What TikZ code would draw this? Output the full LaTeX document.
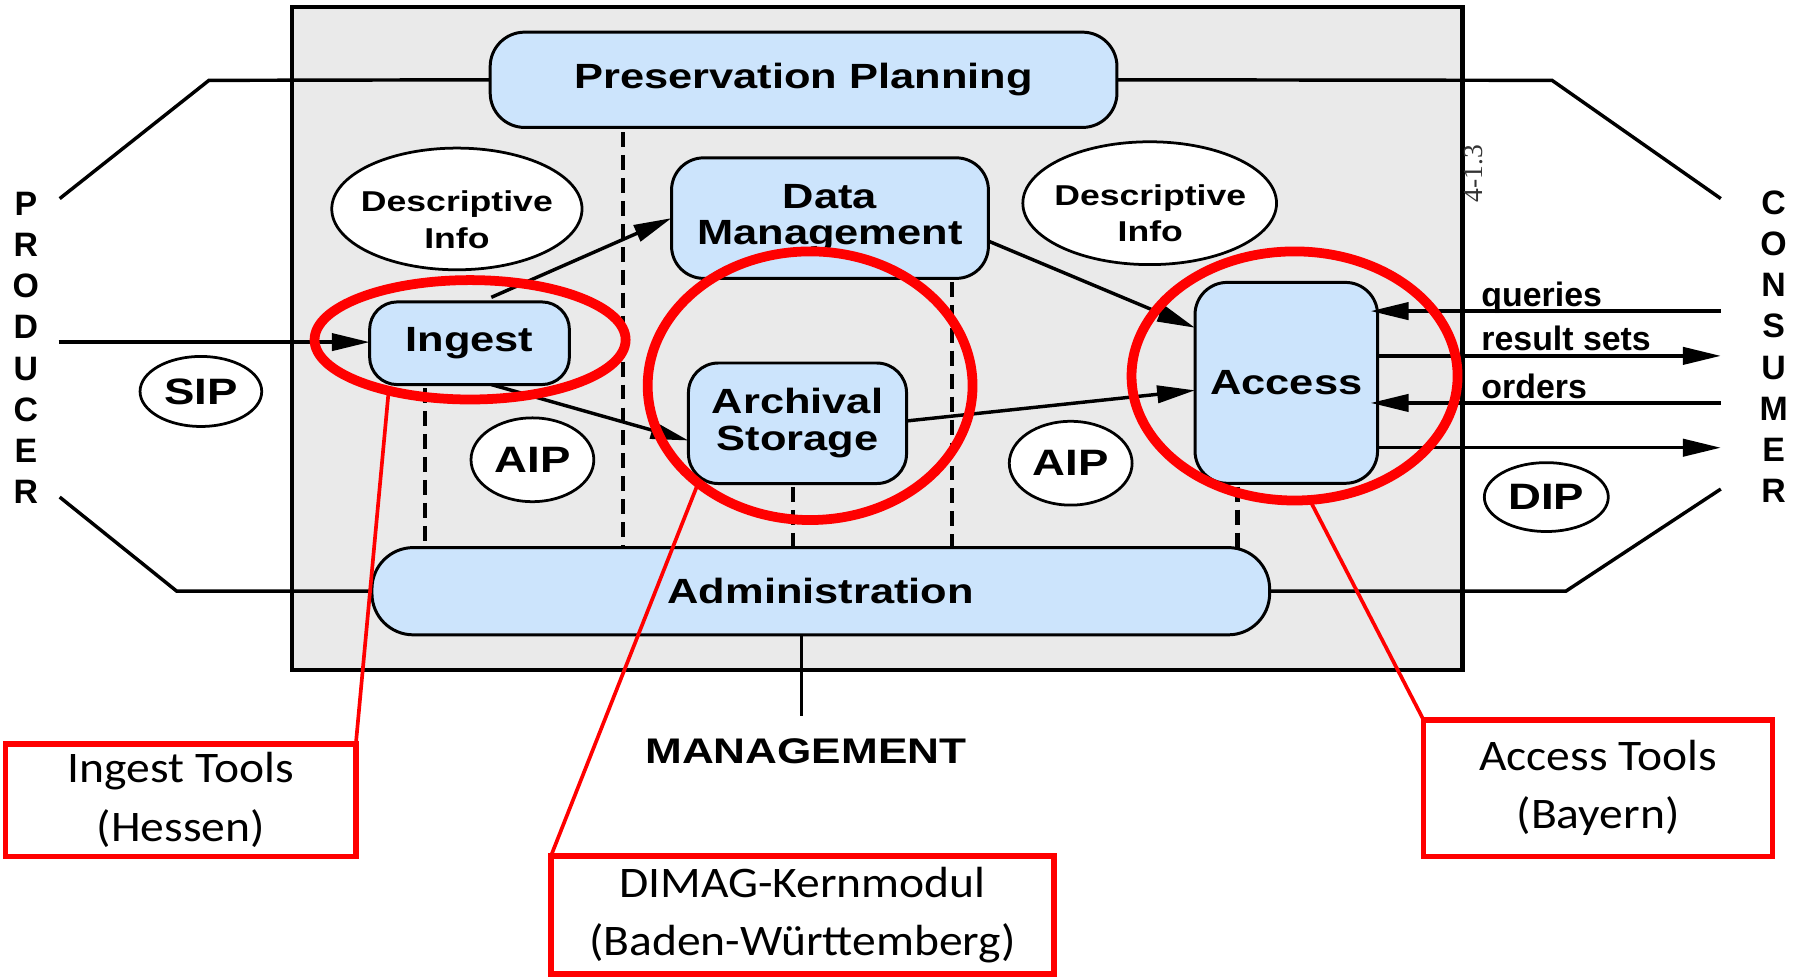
\documentclass[tikz,border=0pt]{standalone}
\usepackage{fontspec}
\setmainfont{Liberation Sans}
\newfontfamily\dfont[FakeStretch=1.24]{Liberation Sans}
\newfontfamily\calfont[FakeStretch=1.09]{Carlito}
\newfontfamily\serfont{Liberation Serif}
\usetikzlibrary{shapes.geometric,arrows.meta}
\definecolor{boxblue}{RGB}{204,228,252}
\definecolor{bggray}{RGB}{234,234,234}
\definecolor{callred}{RGB}{255,0,0}
\begin{document}
\begin{tikzpicture}[x=1pt,y=-1pt,
 every node/.style={inner sep=0pt, outer sep=0pt},
 compbox/.style={draw=black, line width=2.6pt, fill=boxblue, rounded corners=#1, align=center, font=\dfont\bfseries\fontsize{30.5}{32}\selectfont},
 infoell/.style={draw=black, line width=2.4pt, fill=white, ellipse},
 infotext/.style={align=center, font=\dfont\bfseries\fontsize{25}{31.6}\selectfont},
 pkg/.style={draw=black, line width=2.4pt, fill=white, ellipse, font=\dfont\bfseries\fontsize{32}{33}\selectfont},
 conn/.style={line width=3pt},
 arr/.style={line width=3pt, -{Triangle[length=33pt,width=15pt]}},
 dashline/.style={line width=3.6pt, dash pattern=on 13pt off 7pt},
 ring/.style={draw=callred, line width=8.5pt, ellipse},
 callbox/.style={draw=callred, line width=4.8pt, fill=white, align=center, font=\calfont\fontsize{38}{51}\selectfont},
 callline/.style={draw=callred, line width=3.2pt},
 sidelbl/.style={font=\bfseries\fontsize{29.5}{30}\selectfont},
 vlbl/.style={align=center, font=\bfseries\fontsize{29.5}{35.86}\selectfont}
]
\useasboundingbox (0,0) rectangle (1568,852);

% frame
\node[draw=black, line width=3.6pt, fill=bggray, minimum width=1020, minimum height=578] (frame) at (764,295) {};

% coordinates for free ends
\coordinate (pl1) at (182,70);   \coordinate (pl2) at (52,173);
\coordinate (pr1) at (1352,70);  \coordinate (pr2) at (1499,173);
\coordinate (al1) at (154,515);  \coordinate (al2) at (52,433);
\coordinate (ar1) at (1364,515); \coordinate (ar2) at (1499,426);
\coordinate (pin) at (51,298);
\coordinate (cq) at (1499,271);
\coordinate (cr) at (1499,310);
\coordinate (co) at (1499,351);
\coordinate (cd) at (1499,390);
\coordinate (mg) at (698,624);
\coordinate (dA) at (543,0);
\coordinate (dB) at (370,0);
\coordinate (dC) at (691,0);
\coordinate (dD) at (829,0);
\coordinate (dE) at (1078,0);

% components
\node[compbox=30pt, minimum width=546, minimum height=83] (PP) at (700,69.5) {Preservation Planning};
\node[compbox=28pt, minimum width=276, minimum height=105] (DM) at (723,190) {Data\\Management};
\node[compbox=24pt, minimum width=174, minimum height=72] (IN) at (409,299) {Ingest};
\node[compbox=26pt, minimum width=190, minimum height=105] (AS) at (694.7,368.7) {Archival\\Storage};
\node[compbox=28pt, minimum width=159, minimum height=175] (AC) at (1120.5,333.5) {Access};
\node[compbox=36pt, minimum width=782, minimum height=76] (AD) at (715,515) {Administration};

% dashed links
\draw[dashline, shorten <=4pt] (PP.south -| dA) -- (AD.north -| dA);
\draw[dashline, shorten <=3pt] (IN.south -| dB) -- (AD.north -| dB);
\draw[dashline, shorten <=3pt] (AS.south -| dC) -- (AD.north -| dC);
\draw[dashline, shorten <=3pt] (DM.south -| dD) -- (AD.north -| dD);
\draw[dashline, shorten <=3pt] (AC.south -| dE) -- (AD.north -| dE);

% outer connectors
\draw[conn] (PP.west) -- (pl1) -- (pl2);
\draw[conn] (PP.east) -- (pr1) -- (pr2);
\draw[conn] (AD.west) -- (al1) -- (al2);
\draw[conn] (AD.east) -- (ar1) -- (ar2);
\draw[conn] (AD.south -| mg) -- (mg);
\draw[arr] (pin) -- (pin -| IN.west);
\draw[arr] (cq) -- ([xshift=-6pt]cq -| AC.east);
\draw[arr] (cr -| AC.east) -- (cr);
\draw[arr] (co) -- ([xshift=-6pt]co -| AC.east);
\draw[arr] (cd -| AC.east) -- (cd);

% internal arrows
\draw[arr] ([xshift=19pt,yshift=4pt]IN.north) -- (DM.west);
\draw[arr] ([xshift=19pt]IN.south) -- ([yshift=-15pt]AS.west);
\draw[arr] ([yshift=2pt]AS.east) -- ([yshift=-6.5pt]AC.west);
\draw[arr] ([yshift=-20pt]DM.east) -- ([yshift=48pt]AC.west);

% info ellipses
\node[infoell, minimum width=218, minimum height=106] (DI1) at (398,182) {};
\node[infotext] (DI1t) at (398,191.4) {Descriptive\\Info};
\node[infoell, minimum width=221, minimum height=107] (DI2) at (1001.5,177) {};
\node[infotext] (DI2t) at (1002,185.7) {Descriptive\\Info};

% packages
\node[pkg, minimum width=106, minimum height=61] (SIP) at (175,341) {SIP};
\node[pkg, minimum width=107, minimum height=73] (AIP1) at (463.8,400.5) {AIP};
\node[pkg, minimum width=107, minimum height=73] (AIP2) at (932.7,403.5) {AIP};
\node[pkg, minimum width=108, minimum height=60] (DIP) at (1347,433) {DIP};

% labels
\node[sidelbl, anchor=base west] (lq) at (1290.5,267) {queries};
\node[sidelbl, anchor=base west] (lr) at (1290.5,305.5) {result sets};
\node[sidelbl, anchor=base west] (lo) at (1290.5,346.8) {orders};
\node[vlbl] (prod) at (22.5,303) {P\\R\\O\\D\\U\\C\\E\\R};
\node[vlbl] (cons) at (1545,302) {C\\O\\N\\S\\U\\M\\E\\R};
\node[font=\dfont\bfseries\fontsize{31}{32}\selectfont] (MG) at (702,654) {MANAGEMENT};
\node[rotate=90, font=\serfont\fontsize{24}{24}\selectfont, text=black!80] (fig) at (1284,151) {4-1.3};

% red highlights
\node[ring, minimum width=271, minimum height=104] (RI) at (409.5,296) {};
\node[ring, minimum width=283, minimum height=234] (RA) at (705.7,336) {};
\node[ring, minimum width=284, minimum height=217] (RC) at (1127.7,327.5) {};

\node[callbox, minimum width=305, minimum height=98] (IT) at (157.5,697) {Ingest Tools\\(Hessen)};
\node[callbox, minimum width=438, minimum height=103] (DG) at (699,797) {DIMAG-Kernmodul\\(Baden-Württemberg)};
\node[callbox, minimum width=304, minimum height=119] (AT) at (1392,686.5) {Access Tools\\(Bayern)};

\draw[callline] (RI.212) -- (IT.north east);
\draw[callline] (RA.221) -- (DG.north west);
\draw[callline] (RC.277) -- (AT.north west);
\end{tikzpicture}
\end{document}
